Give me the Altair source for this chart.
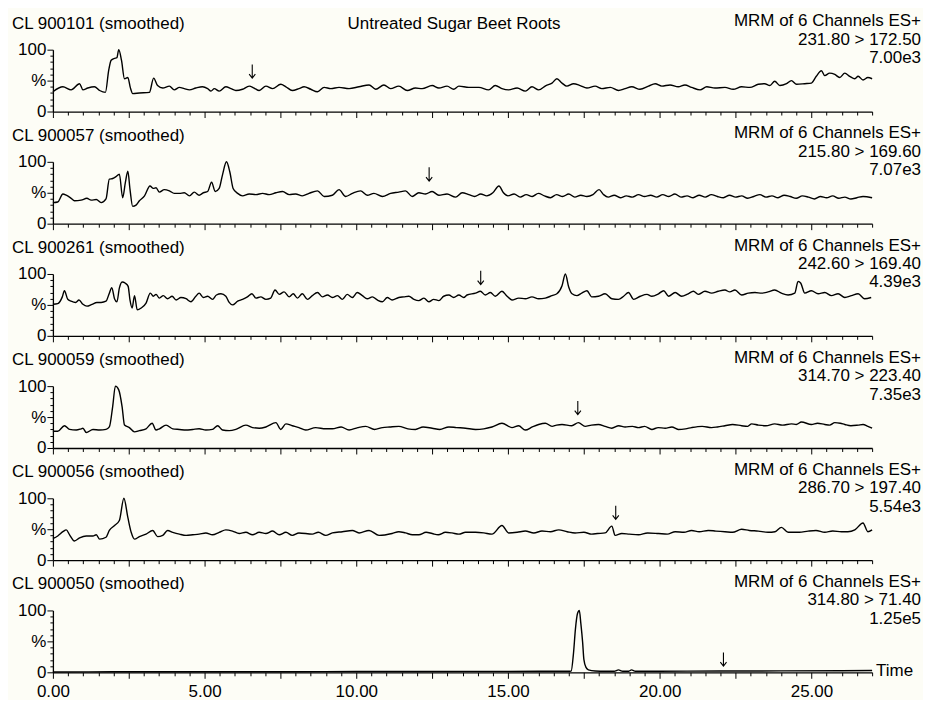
import altair as alt
import pandas as pd

FONT = "Liberation Sans"
BG = "#fdfdf6"

panel_names = ["CL 900101 (smoothed)", "CL 900057 (smoothed)", "CL 900261 (smoothed)",
               "CL 900059 (smoothed)", "CL 900056 (smoothed)", "CL 900050 (smoothed)"]
channel_head = "MRM of 6 Channels ES+"
transitions = ["231.80 > 172.50", "215.80 > 169.60", "242.60 > 169.40",
               "314.70 > 223.40", "286.70 > 197.40", "314.80 > 71.40"]
intensities = ["7.00e3", "7.07e3", "4.39e3", "7.35e3", "5.54e3", "1.25e5"]
arrow_times = [6.57, 12.4, 14.1, 17.3, 18.55, 22.1]
arrow_levels = [65, 80, 94, 65, 77, 21]
main_title = "Untreated Sugar Beet Roots"
x_title = "Time"

trace_1 = [(0.00,32),(0.33,40),(0.60,35),(0.88,45),(0.99,35),(1.15,38),(1.37,40),(1.54,34),(1.73,31),
 (1.84,67),(1.92,83),(2.03,86),(2.11,87),(2.17,100),(2.26,83),(2.36,53),(2.47,55),(2.55,39),(2.63,29),
 (2.85,30),(3.18,31),(3.32,54),(3.45,42),(3.62,38),(3.84,41),(4.00,35),(4.17,39),(4.33,37),(4.50,35),
 (4.71,38),(4.93,40),(5.10,37),(5.21,33),(5.32,37),(5.48,33),(5.70,40),(5.87,37),(6.03,34),(6.25,36),
 (6.47,41),(6.63,38),(6.80,34),(7.02,41),(7.24,37),(7.51,44),(7.68,40),(7.89,34),(8.11,37),(8.28,40),
 (8.50,36),(8.72,32),(8.94,39),(9.16,37),(9.43,39),(9.76,37),(10.09,40),(10.42,43),(10.64,36),(10.91,43),
 (11.13,37),(11.40,41),(11.68,34),(11.95,38),(12.17,37),(12.50,42),(12.72,38),(12.99,41),(13.21,36),
 (13.38,41),(13.71,39),(14.04,39),(14.36,35),(14.58,42),(14.80,37),(15.02,35),(15.30,38),(15.57,33),
 (15.79,40),(16.01,35),(16.25,42),(16.45,46),(16.61,53),(16.78,46),(16.94,41),(17.16,45),(17.38,42),
 (17.60,38),(17.87,41),(18.09,37),(18.37,39),(18.64,34),(18.86,37),(19.08,40),(19.35,36),(19.63,41),
 (19.85,45),(20.07,41),(20.34,43),(20.61,40),(20.83,43),(21.05,39),(21.33,35),(21.55,40),(21.82,38),
 (22.15,39),(22.42,36),(22.70,40),(22.97,39),(23.25,44),(23.46,45),(23.63,42),(23.79,49),(23.96,42),
 (24.18,45),(24.34,50),(24.51,44),(24.78,45),(25.00,46),(25.16,57),(25.33,66),(25.44,58),(25.60,62),
 (25.77,60),(25.93,55),(26.10,62),(26.26,57),(26.43,53),(26.54,57),(26.70,51),(26.86,55),(27.00,53)]

trace_2 = [(0.00,34),(0.16,35),(0.33,48),(0.44,46),(0.60,41),(0.71,37),(0.93,38),(1.12,41),(1.26,38),
 (1.43,39),(1.59,34),(1.75,40),(1.86,72),(1.97,73),(2.08,76),(2.19,80),(2.30,42),(2.39,67),(2.47,85),
 (2.54,56),(2.63,28),(2.74,30),(2.85,37),(3.02,45),(3.20,61),(3.31,57),(3.40,58),(3.51,51),(3.67,55),
 (3.84,53),(4.00,49),(4.17,49),(4.33,50),(4.50,45),(4.66,51),(4.82,46),(4.96,50),(5.10,52),(5.23,67),
 (5.35,52),(5.48,57),(5.59,79),(5.72,100),(5.83,84),(5.94,57),(6.09,49),(6.25,45),(6.47,48),(6.69,47),
 (6.91,49),(7.13,47),(7.35,50),(7.57,52),(7.79,47),(8.00,48),(8.22,45),(8.44,49),(8.72,53),(8.94,44),
 (9.21,46),(9.43,55),(9.65,44),(9.87,49),(10.14,53),(10.36,46),(10.58,49),(10.86,44),(11.13,49),
 (11.40,51),(11.62,53),(11.84,44),(12.06,50),(12.28,48),(12.50,52),(12.72,46),(12.99,48),(13.27,43),
 (13.49,50),(13.71,47),(13.90,44),(14.10,48),(14.30,45),(14.50,50),(14.70,61),(14.85,50),(15.00,45),
 (15.20,48),(15.40,43),(15.60,47),(15.80,44),(16.00,49),(16.20,45),(16.40,42),(16.60,47),(16.80,44),
 (17.00,48),(17.20,43),(17.40,46),(17.60,44),(17.80,47),(18.00,55),(18.15,47),(18.30,43),(18.50,46),
 (18.70,42),(18.90,45),(19.10,43),(19.30,47),(19.50,44),(19.70,46),(19.90,43),(20.10,47),(20.30,44),
 (20.50,48),(20.70,43),(20.90,45),(21.10,42),(21.30,46),(21.50,43),(21.70,47),(21.90,44),(22.10,42),
 (22.30,46),(22.50,43),(22.70,45),(22.90,41),(23.10,44),(23.30,47),(23.50,43),(23.70,45),(23.90,42),
 (24.10,46),(24.30,44),(24.50,41),(24.70,45),(24.90,43),(25.10,40),(25.30,44),(25.50,42),(25.70,45),
 (25.90,41),(26.10,43),(26.30,40),(26.50,42),(26.70,44),(27.00,42)]

trace_3 = [(0.00,51),(0.16,52),(0.31,63),(0.38,73),(0.49,59),(0.60,56),(0.75,54),(0.86,58),(0.99,51),
 (1.12,48),(1.29,51),(1.45,54),(1.59,54),(1.75,56),(1.86,69),(1.94,78),(2.03,60),(2.11,55),(2.19,77),
 (2.28,87),(2.39,85),(2.48,80),(2.54,58),(2.61,45),(2.69,65),(2.78,42),(2.91,45),(3.07,53),(3.21,69),
 (3.31,64),(3.40,67),(3.51,61),(3.64,65),(3.78,60),(3.93,64),(4.06,58),(4.22,62),(4.39,60),(4.55,55),
 (4.71,64),(4.82,69),(4.96,62),(5.10,64),(5.26,59),(5.39,66),(5.54,68),(5.70,64),(5.81,54),(5.92,50),
 (6.09,56),(6.25,59),(6.41,63),(6.56,68),(6.69,61),(6.85,63),(7.02,59),(7.18,61),(7.32,74),(7.46,67),
 (7.62,71),(7.79,63),(7.92,68),(8.06,61),(8.22,68),(8.39,59),(8.55,65),(8.72,70),(8.88,63),(9.05,66),
 (9.21,62),(9.38,65),(9.54,59),(9.70,67),(9.87,62),(10.03,70),(10.20,65),(10.36,60),(10.53,63),
 (10.69,58),(10.86,55),(11.02,62),(11.18,58),(11.40,62),(11.57,63),(11.73,64),(11.90,59),(12.06,57),
 (12.23,61),(12.39,55),(12.55,59),(12.72,57),(12.88,64),(13.05,66),(13.21,62),(13.38,66),(13.54,62),
 (13.65,66),(13.93,69),(14.09,72),(14.25,66),(14.42,70),(14.58,64),(14.80,72),(14.97,64),(15.13,58),
 (15.35,61),(15.57,60),(15.79,63),(16.01,60),(16.23,61),(16.45,65),(16.61,68),(16.78,81),(16.89,100),
 (17.00,79),(17.11,68),(17.27,65),(17.43,69),(17.60,73),(17.76,63),(17.98,64),(18.20,68),(18.42,60),
 (18.64,59),(18.81,64),(18.97,70),(19.14,59),(19.36,64),(19.58,67),(19.74,64),(19.96,68),(20.13,73),
 (20.29,64),(20.51,70),(20.72,64),(20.94,68),(21.11,72),(21.27,67),(21.49,72),(21.71,69),(21.93,72),
 (22.15,74),(22.31,71),(22.48,74),(22.70,66),(22.92,69),(23.14,70),(23.36,69),(23.57,71),(23.79,74),
 (24.01,69),(24.23,66),(24.45,69),(24.56,88),(24.65,85),(24.78,69),(25.00,73),(25.22,68),(25.44,70),
 (25.66,65),(25.88,68),(26.10,62),(26.32,65),(26.54,68),(26.75,60),(26.97,62)]

trace_4 = [(0.00,27),(0.16,27),(0.38,36),(0.55,30),(0.77,29),(0.93,31),(0.99,32),(1.10,25),(1.32,30),
 (1.54,29),(1.75,30),(1.86,34),(1.97,67),(2.06,100),(2.17,94),(2.28,67),(2.36,37),(2.52,33),(2.69,26),
 (2.85,28),(3.07,31),(3.27,40),(3.40,29),(3.51,31),(3.73,37),(3.95,31),(4.17,30),(4.39,29),(4.61,30),
 (4.82,31),(5.04,29),(5.26,30),(5.43,36),(5.59,29),(5.81,28),(6.03,30),(6.36,37),(6.58,33),(6.80,32),
 (7.02,34),(7.35,41),(7.51,30),(7.68,39),(7.89,36),(8.11,33),(8.33,29),(8.66,33),(8.99,31),(9.21,31),
 (9.50,34),(9.76,29),(10.05,33),(10.31,35),(10.60,30),(10.86,33),(11.10,34),(11.40,35),(11.70,31),
 (11.95,30),(12.20,34),(12.50,32),(12.75,30),(13.05,34),(13.30,33),(13.60,32),(13.93,30),(14.20,31),
 (14.47,34),(14.80,40),(15.13,33),(15.35,36),(15.57,29),(15.80,34),(16.01,38),(16.23,40),(16.45,35),
 (16.60,37),(16.78,38),(17.10,36),(17.32,41),(17.54,35),(17.75,37),(17.98,38),(18.20,35),(18.42,32),
 (18.65,36),(18.86,34),(19.10,35),(19.30,33),(19.50,35),(19.74,30),(19.95,33),(20.18,32),(20.40,34),
 (20.61,30),(20.85,31),(21.05,33),(21.40,35),(21.71,33),(21.90,34),(22.15,36),(22.40,38),(22.70,36),
 (22.90,35),(23.03,39),(23.25,37),(23.50,36),(23.79,39),(24.05,37),(24.34,39),(24.50,38),(24.67,42),
 (25.00,38),(25.20,40),(25.44,38),(25.60,37),(25.77,41),(25.95,40),(26.10,38),(26.30,36),(26.54,37),
 (26.70,38),(26.86,35),(27.00,32)]

trace_5 = [(0.00,35),(0.16,39),(0.33,46),(0.44,49),(0.55,41),(0.71,31),(0.88,36),(1.10,39),(1.32,39),
 (1.43,41),(1.54,34),(1.75,37),(1.86,48),(2.03,56),(2.19,64),(2.34,100),(2.47,69),(2.58,45),(2.69,34),
 (2.85,38),(3.07,42),(3.29,48),(3.45,38),(3.62,40),(3.78,48),(3.95,45),(4.17,42),(4.39,40),(4.61,41),
 (4.82,42),(5.04,44),(5.26,41),(5.48,45),(5.70,49),(5.92,47),(6.14,43),(6.36,45),(6.58,41),(6.80,45),
 (7.02,43),(7.24,47),(7.46,41),(7.68,45),(7.89,40),(8.11,44),(8.55,42),(8.75,45),(8.99,40),(9.21,44),
 (9.54,46),(9.87,48),(10.09,44),(10.42,48),(10.75,40),(11.18,43),(11.40,46),(11.62,44),(11.85,41),
 (12.06,41),(12.30,45),(12.50,43),(12.70,41),(12.94,45),(13.15,44),(13.38,42),(13.60,45),(13.93,45),
 (14.20,44),(14.47,42),(14.80,56),(15.02,44),(15.30,45),(15.57,47),(15.85,44),(16.12,47),(16.40,46),
 (16.67,49),(16.95,46),(17.21,44),(17.50,45),(17.76,42),(17.95,43),(18.20,44),(18.42,55),(18.53,40),
 (18.75,43),(19.00,42),(19.30,41),(19.60,44),(19.96,43),(20.25,42),(20.51,46),(20.80,45),(21.05,48),
 (21.30,46),(21.60,48),(21.85,47),(22.15,46),(22.40,45),(22.70,50),(22.95,48),(23.25,47),(23.57,45),
 (23.80,46),(24.01,53),(24.23,45),(24.60,45),(24.89,47),(25.15,48),(25.44,45),(25.70,47),(25.99,46),
 (26.20,46),(26.43,49),(26.70,60),(26.86,46),(27.00,49)]

trace_6 = [(0.00,0.5),(2.00,0.8),(4.00,0.8),(6.00,1.0),(8.00,1.0),(10.00,1.2),(12.00,1.3),(14.00,1.5),
 (16.00,1.6),(17.00,1.6),(17.08,2),(17.16,32),(17.22,69),(17.29,95),(17.35,100),(17.40,79),(17.46,48),
 (17.50,21),(17.57,8),(17.65,4),(17.87,2),(18.20,1.6),(18.50,1.6),(18.64,4),(18.78,1.8),(18.98,1.8),
 (19.07,4),(19.20,1.8),(20.00,1.8),(22.00,2.0),(24.00,2.3),(26.00,2.6),(27.00,2.8)]

traces = [trace_1, trace_2, trace_3, trace_4, trace_5, trace_6]

W, H = 821, 62
x_scale = alt.Scale(domain=[0, 27], nice=False, zero=False)
y_scale = alt.Scale(domain=[0, 100], nice=False)
x_tick_values = [i * 0.5 for i in range(55)]
y_tick_values = [i * 10 for i in range(11)]
ARROW_PATH = "M0,-1L0,1M-0.45,0.42L0,1L0.45,0.42"

y_axis = alt.Axis(
    values=y_tick_values, title=None, grid=False, labelOverlap=False,
    labelExpr="datum.value == 100 ? '100' : (datum.value == 50 ? '%' : (datum.value == 0 ? '0' : ''))",
    tickSize={"condition": {"test": "datum.value % 50 === 0", "value": 6}, "value": 3},
    labelPadding=1, labelFontSize=17, labelFont=FONT, labelColor="black",
    domainColor="black", domainWidth=1.3, tickColor="black", tickWidth=1,
)


def x_axis(bottom):
    common = dict(
        values=x_tick_values, title=None, grid=False, labelOverlap=False, labelFlush=False,
        tickSize={"condition": {"test": "datum.value % 2.5 === 0", "value": 6}, "value": 3.5},
        domainColor="black", domainWidth=1.3, tickColor="black", tickWidth=1,
        labelFontSize=17, labelFont=FONT, labelColor="black", labelPadding=5,
    )
    if bottom:
        return alt.Axis(labels=True,
                        labelExpr="datum.value % 5 === 0 ? format(datum.value, '.2f') : ''",
                        **common)
    return alt.Axis(labels=False, **common)


def make_panel(i):
    bottom = i == len(traces) - 1
    xa = x_axis(bottom)
    df = pd.DataFrame(traces[i], columns=["t", "v"])
    line = alt.Chart(df).mark_line(color="black", strokeWidth=1.4, clip=False,
                                   interpolate="monotone").encode(
        x=alt.X("t:Q", scale=x_scale, axis=xa),
        y=alt.Y("v:Q", scale=y_scale, axis=y_axis),
    )
    arr_df = pd.DataFrame({"t": [arrow_times[i]], "v": [arrow_levels[i]]})
    arrow = alt.Chart(arr_df).mark_point(
        shape=ARROW_PATH, filled=False, stroke="black", strokeWidth=1.1,
        size=190, opacity=1
    ).encode(
        x=alt.X("t:Q", scale=x_scale, axis=xa),
        y=alt.Y("v:Q", scale=y_scale, axis=y_axis),
    )
    lab = pd.DataFrame({"name": [panel_names[i]], "head": [channel_head],
                        "tr": [transitions[i]], "inten": [intensities[i]],
                        "main": [main_title], "xt": [x_title]})
    txt = dict(font=FONT, fontSize=17, color="black", baseline="alphabetic")
    layers = [line, arrow,
              alt.Chart(lab).mark_text(align="left", **txt).encode(
                  x=alt.value(-41), y=alt.value(-21), text="name:N"),
              alt.Chart(lab).mark_text(align="right", **txt).encode(
                  x=alt.value(870), y=alt.value(-23.5), text="head:N"),
              alt.Chart(lab).mark_text(align="right", **txt).encode(
                  x=alt.value(870), y=alt.value(-5), text="tr:N"),
              alt.Chart(lab).mark_text(align="right", **txt).encode(
                  x=alt.value(870), y=alt.value(13.5), text="inten:N")]
    if i == 0:
        layers.append(alt.Chart(lab).mark_text(align="center", **txt).encode(
            x=alt.value(402), y=alt.value(-21), text="main:N"))
    if bottom:
        layers.append(alt.Chart(lab).mark_text(align="left", **txt).encode(
            x=alt.value(825), y=alt.value(66), text="xt:N"))
    return alt.layer(*layers).properties(width=W, height=H)


chart = alt.vconcat(*[make_panel(i) for i in range(len(traces))],
                    spacing=50.4, bounds="flush").properties(
    padding={"left": 4, "top": 3, "right": 2, "bottom": 0},
    background=BG,
).configure_view(stroke=None)

chart.save("out.html", embed_options={"renderer": "svg", "actions": False})
